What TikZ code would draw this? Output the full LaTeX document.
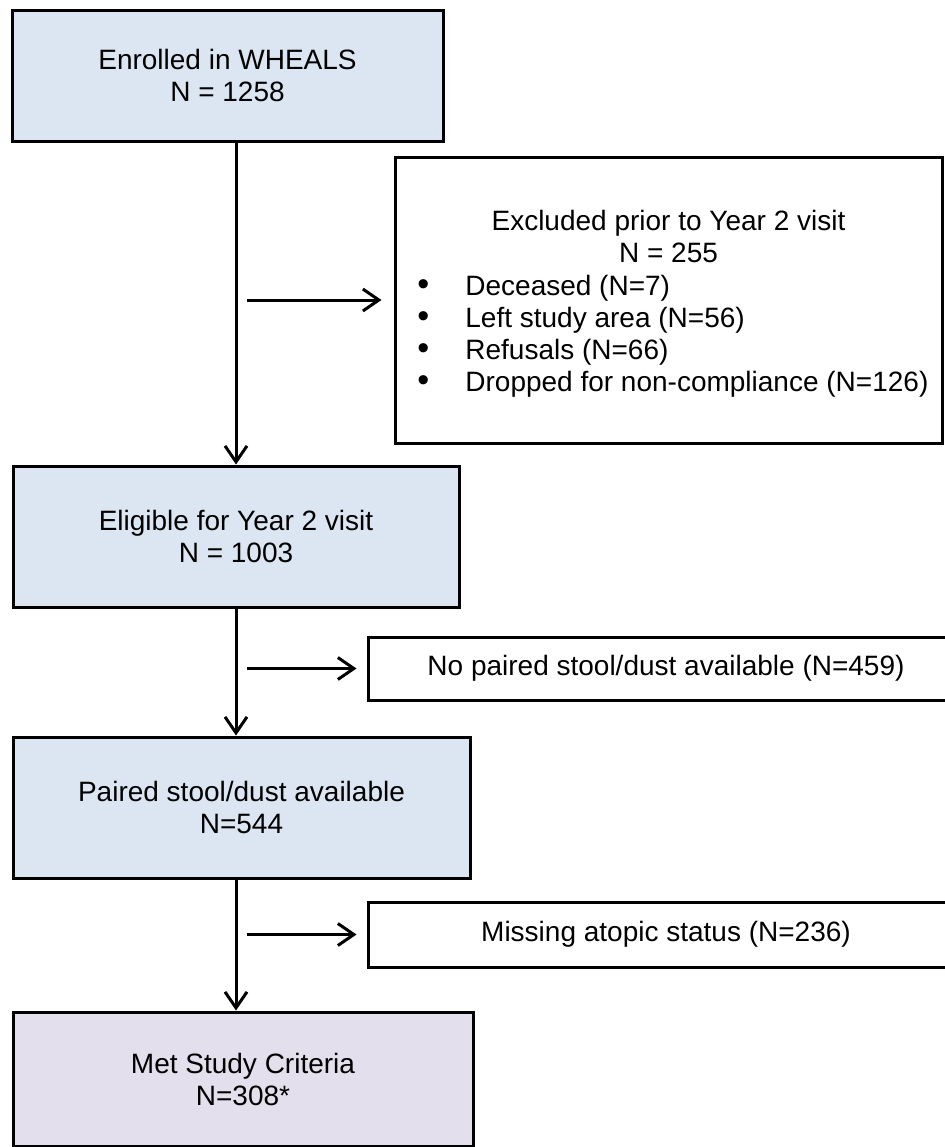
\documentclass[tikz,border=0pt]{standalone}
\usepackage{fontspec}
\setmainfont{Liberation Sans}
\usetikzlibrary{arrows.meta}
\definecolor{stageblue}{HTML}{DCE6F2}
\definecolor{stagelilac}{HTML}{E4DFEC}

\begin{document}
\begin{tikzpicture}[x=0.5pt,y=-0.5pt,
        font=\fontsize{14}{16}\selectfont,
        every node/.style={inner sep=0pt},
        stage/.style={draw,line width=1.5pt,fill=stageblue,align=center},
        dropout/.style={draw,line width=1.5pt,fill=white,align=center},
        flow/.style={line width=1.5pt,-{Straight Barb[length=8pt,width=11pt,line width=1.5pt]}}]
    \useasboundingbox (0,0) rectangle (945,1147);
    \node[stage,minimum width=215.5pt,minimum height=65.5pt] (enrolled) at (227.5,75.5) {Enrolled in WHEALS\\N = 1258};
    \node[dropout,minimum width=273.5pt,minimum height=143pt] (excluded) at (668.5,300) {};
    \node[anchor=north,align=center] (exctitle) at (668.5,210) {Excluded prior to Year 2 visit\\N = 255};
    \node[anchor=north west,align=left] (exclist) at (417,272.6) {%
        \begin{tabular}{@{}p{24pt}@{}l@{}}
            {\fontsize{17}{16}\selectfont\textbullet} & Deceased (N=7)\\
            {\fontsize{17}{16}\selectfont\textbullet} & Left study area (N=56)\\
            {\fontsize{17}{16}\selectfont\textbullet} & Refusals (N=66)\\
            {\fontsize{17}{16}\selectfont\textbullet} & Dropped for non-compliance (N=126)
        \end{tabular}};
    \node[stage,minimum width=223pt,minimum height=70.5pt] (eligible) at (236,536.5) {Eligible for Year 2 visit\\N = 1003};
    \node[dropout,minimum width=298pt,minimum height=31.5pt] (nopair) at (666,668.5) {No paired stool/dust available (N=459)};
    \node[stage,minimum width=228.5pt,minimum height=70.5pt] (paired) at (241.5,807.5) {Paired stool/dust available\\N=544};
    \node[dropout,minimum width=298pt,minimum height=32.5pt] (missing) at (666,934.5) {Missing atopic status (N=236)};
    \node[stage,fill=stagelilac,minimum width=230pt,minimum height=67pt] (met) at (243,1079) {Met Study Criteria\\N=308*};
    \coordinate (branch) at (247,0);
    \draw[flow] (enrolled.south -| eligible.north) -- (eligible.north);
    \draw[flow] (eligible.south) -- (eligible.south |- paired.north);
    \draw[flow] (eligible.south |- paired.south) -- (eligible.south |- met.north);
    \draw[flow,shorten >=6pt] (branch |- excluded.west) -- (excluded.west);
    \draw[flow,shorten >=5pt] (branch |- nopair.west) -- (nopair.west);
    \draw[flow,shorten >=5pt] (branch |- missing.west) -- (missing.west);
\end{tikzpicture}
\end{document}
